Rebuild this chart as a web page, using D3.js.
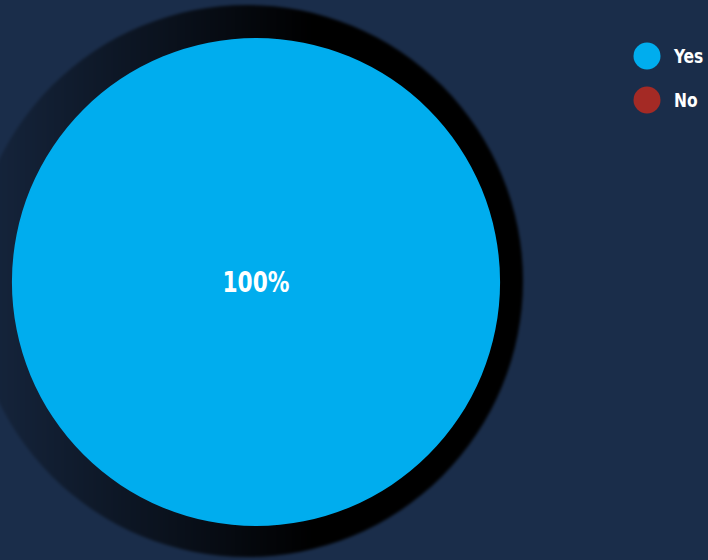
<!DOCTYPE html>
<html>
<head>
<meta charset="utf-8">
<script src="https://cdn.jsdelivr.net/npm/d3@7"></script>
<style>
  html, body { margin: 0; padding: 0; background: #1a2d4a; }
  svg { display: block; }
  text { font-family: "DejaVu Sans Condensed", "DejaVu Sans", sans-serif; font-weight: bold; }
</style>
</head>
<body>
<div id="chart"></div>
<script>
"use strict";

var categories = ["Yes", "No"];
var values = [100, 0];
var colors = ["#00adee", "#a42a25"];

var width = 708,
    height = 560,
    cx = 256,
    cy = 282,
    radius = 244;

var svg = d3.select("#chart")
    .append("svg")
    .attr("width", width)
    .attr("height", height);

var defs = svg.append("defs");

// shadow fades in from the left
var grad = defs.append("linearGradient")
    .attr("id", "shade")
    .attr("x1", "0").attr("y1", "0")
    .attr("x2", "1").attr("y2", "0");
grad.append("stop").attr("offset", "0%").attr("stop-color", "#000").attr("stop-opacity", 0.15);
grad.append("stop").attr("offset", "35%").attr("stop-color", "#000").attr("stop-opacity", 0.6);
grad.append("stop").attr("offset", "62%").attr("stop-color", "#000").attr("stop-opacity", 1);
grad.append("stop").attr("offset", "100%").attr("stop-color", "#000").attr("stop-opacity", 1);

var blur = defs.append("filter").attr("id", "soft")
    .attr("x", "-10%").attr("y", "-10%").attr("width", "120%").attr("height", "120%");
blur.append("feGaussianBlur").attr("stdDeviation", 1.5);

svg.append("circle")
    .attr("cx", cx - 9)
    .attr("cy", cy - 1)
    .attr("r", radius + 32)
    .attr("fill", "url(#shade)")
    .attr("filter", "url(#soft)");

var color = d3.scaleOrdinal().domain(categories).range(colors);

var data = categories.map(function(c, i) { return { label: c, value: values[i] }; });
var total = d3.sum(values);

var pie = d3.pie()
    .sort(null)
    .value(function(d) { return d.value; });

var arc = d3.arc().innerRadius(0).outerRadius(radius);

var g = svg.append("g").attr("transform", "translate(" + cx + "," + cy + ")");

var slices = g.selectAll("path")
    .data(pie(data).filter(function(d) { return d.data.value > 0; }))
    .enter();

slices.append("path")
    .attr("d", arc)
    .attr("fill", function(d) { return color(d.data.label); });

slices.append("text")
    .attr("class", "narrow")
    .attr("transform", function(d) {
      // a full slice gets its label in the middle
      if (d.endAngle - d.startAngle >= 2 * Math.PI - 1e-6) return "translate(0,0)";
      return "translate(" + d3.arc().innerRadius(0).outerRadius(radius * 1.2).centroid(d) + ")";
    })
    .attr("text-anchor", "middle")
    .attr("dy", "0.36em")
    .attr("fill", "#fff")
    .attr("font-size", "28px")
    .text(function(d) { return Math.round(d.data.value / total * 100) + "%"; });

// legend
var legend = svg.append("g")
    .attr("transform", "translate(647,56)")
    .selectAll("g")
    .data(categories)
    .enter()
    .append("g")
    .attr("transform", function(d, i) { return "translate(0," + i * 44 + ")"; });

legend.append("circle")
    .attr("r", 13.5)
    .attr("fill", function(d) { return color(d); });

legend.append("text")
    .attr("class", "narrow")
    .attr("x", 27)
    .attr("dy", "0.36em")
    .attr("fill", "#fff")
    .attr("font-size", "20px")
    .text(function(d) { return d; });

//squeeze the labels to look like a condensed face
svg.selectAll("text.narrow").each(function() {
  var len = this.getComputedTextLength();
  d3.select(this)
    .attr("textLength", len * 0.86)
    .attr("lengthAdjust", "spacingAndGlyphs");
});
</script>
</body>
</html>
